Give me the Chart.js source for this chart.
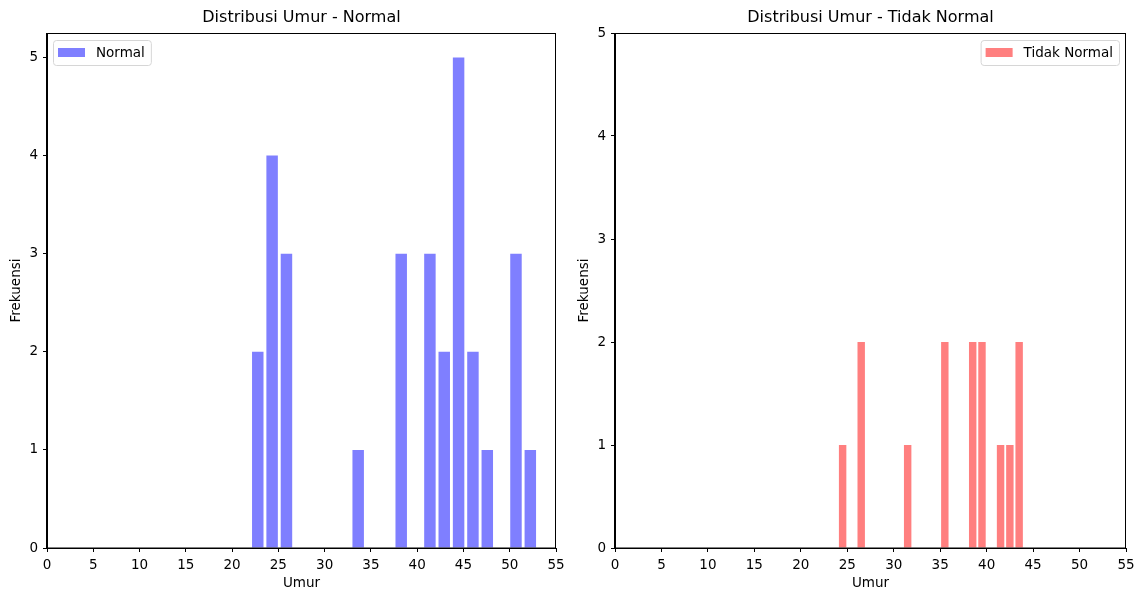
<!DOCTYPE html>
<html>
<head>
<meta charset="utf-8">
<script src="https://cdn.jsdelivr.net/npm/chart.js@4/dist/chart.umd.min.js"></script>
<style>
html,body{margin:0;padding:0;background:#fff;}
#wrap{position:relative;width:1136px;height:590px;}
.c{position:absolute;top:0;width:568px;height:590px;}
</style>
</head>
<body>
<div id="wrap">
<div class="c" style="left:0"><canvas id="c1" width="568" height="590"></canvas></div>
<div class="c" style="left:568px"><canvas id="c2" width="568" height="590"></canvas></div>
</div>
<script>
// Histogram bin centers (Umur) and counts (Frekuensi)
const normalBins = [22.775, 24.325, 25.875, 27.425, 28.975, 30.525, 32.075, 33.625, 35.175, 36.725,
                    38.275, 39.825, 41.375, 42.925, 44.475, 46.025, 47.575, 49.125, 50.675, 52.225];
const normalCounts = [2, 4, 3, 0, 0, 0, 0, 1, 0, 0, 3, 0, 3, 2, 5, 2, 1, 0, 3, 1];

const abnormalBins = [24.5, 25.5, 26.5, 27.5, 28.5, 29.5, 30.5, 31.5, 32.5, 33.5,
                      34.5, 35.5, 36.5, 37.5, 38.5, 39.5, 40.5, 41.5, 42.5, 43.5];
const abnormalCounts = [1, 0, 2, 0, 0, 0, 0, 1, 0, 0, 0, 2, 0, 0, 2, 2, 0, 1, 1, 2];

const xTicks = [0, 5, 10, 15, 20, 25, 30, 35, 40, 45, 50, 55];
const yTicks = [0, 1, 2, 3, 4, 5];

const FONT = "'DejaVu Sans', sans-serif";
const FS = 13.5;

function makeChart(id, title, label, bins, counts, color, yMax, legendSide, padRight) {
  const deco = {
    id: 'deco',
    afterDraw(chart) {
      const ctx = chart.ctx, a = chart.chartArea;
      ctx.save();
      // frame
      ctx.strokeStyle = '#000';
      ctx.lineWidth = 1;
      ctx.strokeRect(Math.round(a.left) - 0.5, Math.round(a.top) + 0.5, Math.round(a.right - a.left), Math.round(a.bottom - a.top) - 0.5);
      // title
      ctx.fillStyle = '#000';
      ctx.font = '16px ' + FONT;
      ctx.textAlign = 'center';
      ctx.textBaseline = 'middle';
      ctx.fillText(title, (a.left + a.right) / 2, 18);
      // axis labels
      ctx.font = FS + 'px ' + FONT;
      ctx.fillText('Umur', (a.left + a.right) / 2, 583);
      ctx.save();
      ctx.translate(16, (a.top + a.bottom) / 2);
      ctx.rotate(-Math.PI / 2);
      ctx.fillText('Frekuensi', 0, 0);
      ctx.restore();
      // legend
      ctx.font = FS + 'px ' + FONT;
      const tw = ctx.measureText(label).width;
      const w = 5 + 27 + 11 + tw + 6, h = 25;
      const x = legendSide === 'left' ? a.left + 6 : a.right - 7 - w;
      const y = a.top + 7;
      ctx.fillStyle = 'rgba(255,255,255,0.8)';
      ctx.strokeStyle = '#d6d6d6';
      ctx.lineWidth = 1;
      ctx.beginPath();
      if (ctx.roundRect) ctx.roundRect(x + 0.5, y + 0.5, w, h, 3); else ctx.rect(x + 0.5, y + 0.5, w, h);
      ctx.fill();
      ctx.stroke();
      ctx.fillStyle = color;
      ctx.fillRect(x + 5, y + 8, 27, 9);
      ctx.fillStyle = '#000';
      ctx.textAlign = 'left';
      ctx.fillText(label, x + 43, y + 13);
      ctx.restore();
    }
  };
  return new Chart(document.getElementById(id), {
    type: 'bar',
    data: {
      datasets: [{
        label: label,
        data: bins.map((b, i) => ({x: b, y: counts[i]})),
        backgroundColor: c => (c.raw && c.raw.y > 0) ? color : 'rgba(0,0,0,0)',
        borderWidth: 0,
        categoryPercentage: 1.0,
        barPercentage: 0.8
      }]
    },
    options: {
      responsive: false,
      animation: false,
      events: [],
      layout: {padding: {top: 33, right: padRight, left: 0, bottom: 0}},
      plugins: {legend: {display: false}, title: {display: false}, tooltip: {enabled: false}},
      scales: {
        x: {
          type: 'linear', min: 0, max: 55, offset: false,
          afterBuildTicks(s) { s.ticks = xTicks.map(v => ({value: v})); },
          afterFit(s) { s.height = 42; s.paddingRight = 0; s.paddingLeft = 0; },
          grid: {display: true, offset: false, drawOnChartArea: false, drawTicks: true, tickLength: 4, color: '#000'},
          border: {display: true, color: '#000'},
          ticks: {color: '#000', font: {family: FONT, size: FS}, padding: 5, maxRotation: 0, autoSkip: false}
        },
        y: {
          type: 'linear', min: 0, max: yMax,
          afterBuildTicks(s) { s.ticks = yTicks.map(v => ({value: v})); },
          afterFit(s) { s.width = 47; },
          grid: {display: true, offset: false, drawOnChartArea: false, drawTicks: true, tickLength: 4, color: '#000'},
          border: {display: true, color: '#000'},
          ticks: {color: '#000', font: {family: FONT, size: FS}, padding: 5}
        }
      }
    },
    plugins: [deco]
  });
}

makeChart('c1', 'Distribusi Umur - Normal', 'Normal', normalBins, normalCounts, 'rgba(0,0,255,0.5)', 5.25, 'left', 12);
makeChart('c2', 'Distribusi Umur - Tidak Normal', 'Tidak Normal', abnormalBins, abnormalCounts, 'rgba(255,0,0,0.5)', 5, 'right', 10);
</script>
</body>
</html>
